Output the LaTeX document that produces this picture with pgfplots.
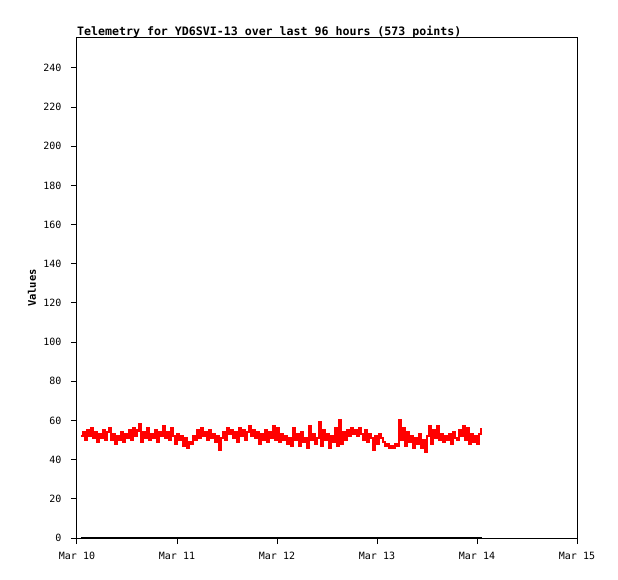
\documentclass[border=0pt]{standalone}
\usepackage{pgfplots}
\pgfplotsset{compat=1.18}
\usepackage{fontspec}
\setmainfont{DejaVu Sans Mono}
\begin{document}
\begin{tikzpicture}
\useasboundingbox (-77pt,-41pt) rectangle (541pt,538pt);
\begin{axis}[
  at={(0,0)}, anchor=south west,
  scale only axis, width=500pt, height=500pt,
  xmin=0, xmax=5, ymin=0, ymax=255.3,
  xtick={0,1,2,3,4,5},
  xticklabels={Mar 10,Mar 11,Mar 12,Mar 13,Mar 14,Mar 15},
  ytick={0,20,40,60,80,100,120,140,160,180,200,220,240},
  tick align=outside, xtick pos=bottom, ytick pos=left,
  major tick length=6pt,
  axis line style={line width=1pt, black},
  tick style={black, line width=1pt},
  ticklabel style={font=\fontsize{10}{12}\selectfont},
  /pgf/number format/assume math mode=true,
  yticklabel style={xshift=-6pt},
  xticklabel style={yshift=-5pt},
  ylabel={Values},
  ylabel style={font=\fontsize{10.5}{12}\selectfont\bfseries, at={(axis description cs:-0.09,0.5)}, anchor=center, rotate=0},
  title={Telemetry for YD6SVI-13 over last 96 hours (573 points)},
  title style={font=\fontsize{11.6}{12}\selectfont\bfseries, at={(axis description cs:0,1)}, anchor=south west, inner sep=0pt, yshift=-6pt},
]
\addplot[black, line width=2.5pt] coordinates {(0.04,0) (4.05,0)};
\addplot[red, line width=2.5pt, const plot] coordinates {
(0.04,52) (0.06,54) (0.08,50) (0.10,55) (0.12,52) (0.14,56) (0.16,51) (0.18,54) (0.20,49) (0.22,53)
(0.24,51) (0.26,55) (0.28,50) (0.30,54) (0.32,56) (0.34,50) (0.36,53) (0.38,48) (0.40,52) (0.42,50)
(0.44,54) (0.46,49) (0.48,53) (0.50,51) (0.52,55) (0.54,50) (0.56,56) (0.58,52) (0.60,55) (0.62,58)
(0.64,49) (0.66,54) (0.68,51) (0.70,56) (0.72,50) (0.74,53) (0.76,51) (0.78,55) (0.80,49) (0.82,54)
(0.84,52) (0.86,57) (0.88,51) (0.90,54) (0.92,50) (0.94,56) (0.96,52) (0.98,48) (1.00,53)
(1.02,50) (1.04,52) (1.06,47) (1.08,51) (1.10,46) (1.12,49) (1.14,48) (1.16,52) (1.18,50) (1.20,55)
(1.22,51) (1.24,56) (1.26,52) (1.28,54) (1.30,50) (1.32,55) (1.34,51) (1.36,53) (1.38,49) (1.40,52)
(1.42,45) (1.44,51) (1.46,54) (1.48,50) (1.50,56) (1.52,53) (1.54,55) (1.56,51) (1.58,54) (1.60,49)
(1.62,56) (1.64,52) (1.66,55) (1.68,50) (1.70,54) (1.72,57) (1.74,52) (1.76,55) (1.78,51) (1.80,54)
(1.82,48) (1.84,53) (1.86,50) (1.88,55) (1.90,49) (1.92,54) (1.94,51) (1.96,57) (1.98,50) (2.00,56)
(2.02,49) (2.04,53) (2.06,50) (2.08,52) (2.10,48) (2.12,51) (2.14,47) (2.16,56) (2.18,50) (2.20,53)
(2.22,47) (2.24,54) (2.26,49) (2.28,51) (2.30,46) (2.32,57) (2.34,50) (2.36,53) (2.38,48) (2.40,51)
(2.42,59) (2.44,47) (2.46,55) (2.48,50) (2.50,53) (2.52,46) (2.54,52) (2.56,49) (2.58,56) (2.60,47)
(2.62,60) (2.64,48) (2.66,54) (2.68,50) (2.70,55) (2.72,52) (2.74,56) (2.76,53) (2.78,55) (2.80,52)
(2.82,56) (2.84,53) (2.86,50) (2.88,55) (2.90,49) (2.92,53) (2.94,51) (2.96,45) (2.98,52) (3.00,48)
(3.02,53) (3.04,51) (3.06,49) (3.08,47) (3.10,48) (3.12,46) (3.14,47) (3.16,46) (3.18,48) (3.20,47)
(3.22,60) (3.24,50) (3.26,56) (3.28,47) (3.30,54) (3.32,49) (3.34,52) (3.36,46) (3.38,51) (3.40,48)
(3.42,53) (3.44,46) (3.46,50) (3.48,44) (3.50,52) (3.52,57) (3.54,48) (3.56,55) (3.58,51) (3.60,57)
(3.62,50) (3.64,53) (3.66,49) (3.68,52) (3.70,50) (3.72,53) (3.74,48) (3.76,54) (3.78,51) (3.80,50)
(3.82,55) (3.84,52) (3.86,57) (3.88,50) (3.90,56) (3.92,48) (3.94,53) (3.96,49) (3.98,52) (4.00,48)
(4.02,53) (4.04,56)
};
\end{axis}
\end{tikzpicture}
\end{document}
